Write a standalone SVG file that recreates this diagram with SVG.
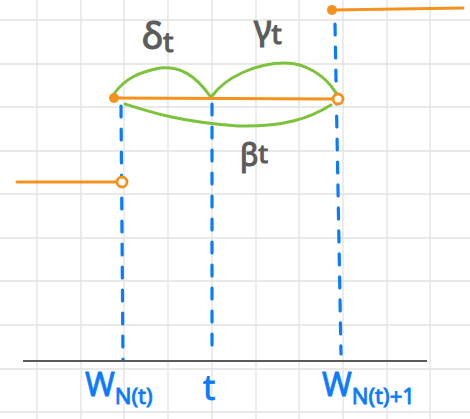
<svg xmlns="http://www.w3.org/2000/svg" width="470" height="419" viewBox="0 0 470 419">
<style>
.grid line{stroke:#e2e2e2;stroke-width:1.3}
.axis{stroke:#5a5a5a;stroke-width:2.2;fill:none}
.dash{stroke:#0a7aff;stroke-width:3.2;stroke-dasharray:11 12;stroke-linecap:round;fill:none}
.fn{stroke:#f5921e;stroke-width:3;fill:none;stroke-linecap:round}
.arc{stroke:#7cc33b;stroke-width:3;fill:none;stroke-linecap:round}
.lab{font-family:"Noto Sans",sans-serif;fill:#5c5c5c;stroke:#5c5c5c;stroke-width:1.2}
.blab{font-family:"Noto Sans",sans-serif;fill:#0a7aff;stroke:#0a7aff;stroke-width:0.8}
</style>
<rect width="470" height="419" fill="#ffffff"/>
<g class="grid">
<line x1="37" y1="0" x2="37" y2="419"/><line x1="81" y1="0" x2="81" y2="419"/><line x1="124" y1="0" x2="124" y2="419"/><line x1="168" y1="0" x2="168" y2="419"/><line x1="212" y1="0" x2="212" y2="419"/><line x1="256" y1="0" x2="256" y2="419"/><line x1="299" y1="0" x2="299" y2="419"/><line x1="343" y1="0" x2="343" y2="419"/><line x1="387" y1="0" x2="387" y2="419"/><line x1="430" y1="0" x2="430" y2="419"/>
<line x1="0" y1="20" x2="470" y2="20"/><line x1="0" y1="64" x2="470" y2="64"/><line x1="0" y1="107" x2="470" y2="107"/><line x1="0" y1="151" x2="470" y2="151"/><line x1="0" y1="194" x2="470" y2="194"/><line x1="0" y1="238" x2="470" y2="238"/><line x1="0" y1="281" x2="470" y2="281"/><line x1="0" y1="325" x2="470" y2="325"/><line x1="0" y1="369" x2="470" y2="369"/><line x1="0" y1="412" x2="470" y2="412"/>
</g>
<g id="connectors">
<path class="dash" d="M121,106 L123,360"/>
<path class="dash" d="M212,104 L212,357"/>
<path class="dash" d="M335,24 L341,354"/>
<path class="axis" d="M23,361 L427,361"/>
<path class="arc" d="M114,94 C125,78 140,72 160,68 C180,66 195,75 210,96"/>
<path class="arc" d="M212,96 C225,78 255,63 285,63 C305,63 325,75 336,93"/>
<path class="arc" d="M125,104 C150,112 180,122 238,126 C285,127 310,118 331,105"/>
</g>
<g id="fn-top">
<path class="fn" d="M332,10 L463,8"/>
<circle cx="332" cy="10" r="5" fill="#f5921e"/>
</g>
<g id="fn-mid">
<path class="fn" d="M114,98 L334,99"/>
<circle cx="114" cy="98" r="5" fill="#f5921e"/>
<circle cx="338" cy="99" r="5" fill="#ffffff" stroke="#f5921e" stroke-width="2.8"/>
</g>
<g id="fn-left">
<path class="fn" d="M17,182 L118,182"/>
<circle cx="122" cy="182" r="5" fill="#ffffff" stroke="#f5921e" stroke-width="2.8"/>
</g>
<g id="label-delta"><text class="lab" x="142" y="49" font-size="36">δ<tspan font-size="28" dy="3">t</tspan></text></g>
<g id="label-gamma"><text class="lab" x="254" y="40" font-size="34">γ<tspan font-size="28" dy="4">t</tspan></text></g>
<g id="label-beta"><text class="lab" x="240" y="166" font-size="30">β<tspan font-size="26" dy="-3">t</tspan></text></g>
<g id="label-w"><text class="blab" x="85" y="396" font-size="32">W<tspan font-size="22" dy="8">N(t)</tspan></text></g>
<g id="label-t"><text class="blab" x="203" y="400" font-size="34">t</text></g>
<g id="label-w1"><text class="blab" x="322" y="396" font-size="32">W<tspan font-size="22" dy="8">N(t)+1</tspan></text></g>
</svg>
